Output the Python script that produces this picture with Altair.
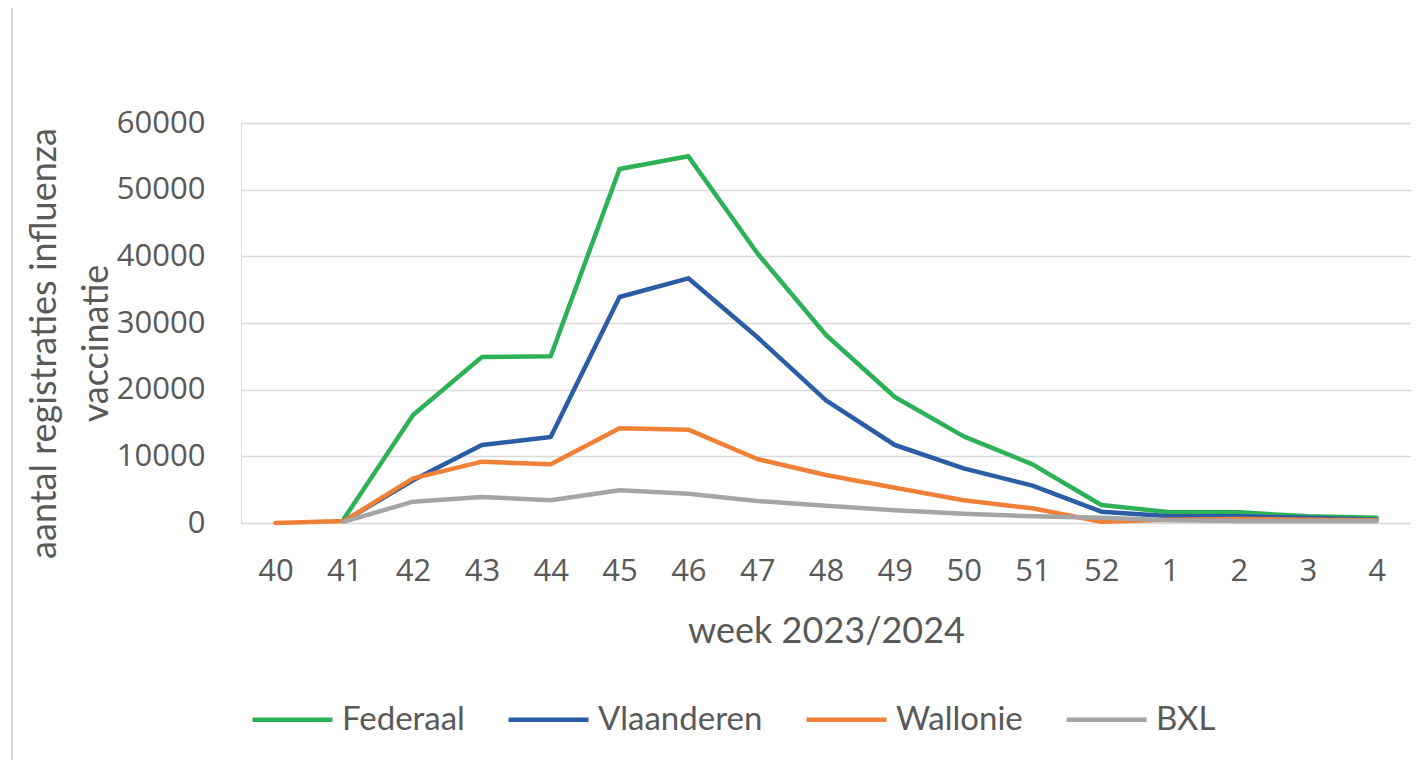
import altair as alt
import pandas as pd

weeks = ["40", "41", "42", "43", "44", "45", "46", "47", "48", "49", "50", "51", "52", "1", "2", "3", "4"]
federaal = [None, 700, 16200, 24900, 25000, 53100, 55000, 40500, 28200, 18900, 13000, 8800, 2700, 1600, 1600, 1000, 800]
vlaanderen = [None, 300, 6400, 11700, 12900, 33900, 36700, 27900, 18400, 11700, 8200, 5600, 1700, 1000, 1000, 800, 500]
wallonie = [0, 300, 6700, 9200, 8800, 14200, 14000, 9600, 7200, 5300, 3400, 2200, 200, 500, 600, 500, 400]
bxl = [None, 200, 3200, 3900, 3400, 4900, 4400, 3300, 2600, 1900, 1400, 1000, 800, 400, 300, 300, 300]

series_names = ["Federaal", "Vlaanderen", "Wallonie", "BXL"]
series_values = [federaal, vlaanderen, wallonie, bxl]
series_colors = ["#2db157", "#2c5ca4", "#f08038", "#a5a5a5"]

rows = []
for name, vals in zip(series_names, series_values):
    for w, v in zip(weeks, vals):
        if v is not None:
            rows.append({"week": w, "reeks": name, "aantal": v})
df = pd.DataFrame(rows)

FONT = "Lato"
TICKFONT = "Open Sans"
TXT = "#595959"

lines = alt.Chart(df).mark_line(strokeWidth=4.5, strokeJoin="round", strokeCap="round").encode(
    x=alt.X("week:N", sort=weeks,
            scale=alt.Scale(type="point", padding=0.5),
            axis=alt.Axis(title="week 2023/2024", labelAngle=0, labelFontSize=31, labelFont=TICKFONT,
                          labelColor=TXT, labelPadding=33, ticks=False, domain=False, grid=False,
                          titleFont=FONT, titleFontSize=36, titleFontWeight="normal", titleColor=TXT,
                          titleX=585, titleY=119, titleBaseline="alphabetic", titleAlign="center")),
    y=alt.Y("aantal:Q",
            scale=alt.Scale(domain=[0, 60000], nice=False),
            axis=alt.Axis(title=["aantal registraties influenza", "vaccinatie"],
                          values=[0, 10000, 20000, 30000, 40000, 50000, 60000], format="d",
                          labelFontSize=31, labelFont=TICKFONT, labelColor=TXT, labelPadding=36,
                          ticks=False, domain=False, grid=True, gridColor="#d9d9d9", gridWidth=1.5,
                          titleFont=FONT, titleFontSize=36, titleFontWeight="normal", titleColor=TXT,
                          titleAngle=-90, titleX=-186, titleY=220, titleAlign="center",
                          titleBaseline="alphabetic", titleLineHeight=52)),
    color=alt.Color("reeks:N", sort=series_names,
                    scale=alt.Scale(domain=series_names, range=series_colors),
                    legend=alt.Legend(title=None, orient="none", legendX=9, legendY=554,
                                      direction="horizontal", symbolType="stroke", symbolSize=6400,
                                      symbolStrokeWidth=4.5, labelFontSize=33, labelFont=FONT,
                                      labelColor=TXT, labelLimit=400, columnPadding=34,
                                      labelOffset=7)),
)

frame_left = alt.Chart(df).mark_rule(color="#d9d9d9", strokeWidth=1).encode(
    x=alt.value(-229), y=alt.value(-116), y2=alt.value(640))
frame_top = alt.Chart(df).mark_rule(color="#d9d9d9", strokeWidth=1).encode(
    x=alt.value(-229), x2=alt.value(1170), y=alt.value(-116))

chart = alt.layer(frame_left, frame_top, lines).properties(
    width=1170, height=400,
    padding={"left": 233, "top": 115, "right": 0, "bottom": 237},
    autosize=alt.AutoSizeParams(type="none"),
).configure_view(stroke=None).configure(background="white")

chart.save("out.html", embed_options={"renderer": "svg", "actions": False})
